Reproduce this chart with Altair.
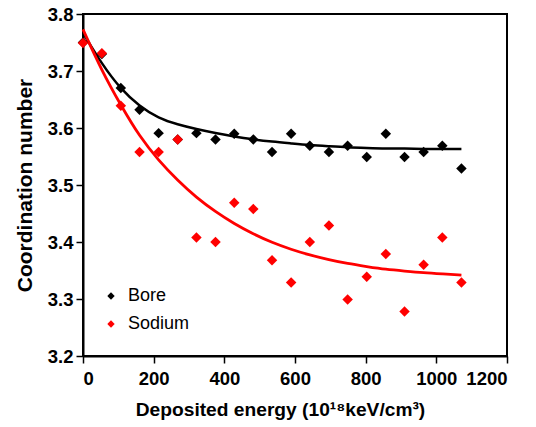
import altair as alt
import pandas as pd

# Data
x_vals = [0, 53.5, 107, 160, 214, 268, 321, 375, 428, 482, 535, 589,
          642, 696, 749, 803, 857, 910, 964, 1017, 1071]
bore = [3.75, 3.73, 3.67, 3.632, 3.591, 3.58, 3.591, 3.58, 3.59, 3.58, 3.558,
        3.59, 3.569, 3.558, 3.569, 3.549, 3.59, 3.549, 3.558, 3.569, 3.529]
sodium = [3.749, 3.731, 3.639, 3.558, 3.558, 3.58, 3.408, 3.40, 3.469, 3.458,
          3.368, 3.329, 3.40, 3.429, 3.299, 3.339, 3.379, 3.278, 3.36, 3.408, 3.329]
bore_fit = [3.767, 3.712, 3.668, 3.638, 3.617, 3.606, 3.598, 3.591, 3.585, 3.580,
            3.576, 3.573, 3.570, 3.568, 3.566, 3.565, 3.564, 3.564, 3.563, 3.563, 3.563]
sodium_fit = [3.773, 3.70, 3.64, 3.585, 3.543, 3.508, 3.478, 3.453, 3.432, 3.414,
              3.399, 3.387, 3.377, 3.369, 3.362, 3.357, 3.352, 3.349, 3.346, 3.344, 3.342]

series_names = ["Bore", "Sodium"]
series_colors = ["#000000", "#ff0000"]

pts = pd.DataFrame(
    {"x": x_vals * 2,
     "y": bore + sodium,
     "series": ["Bore"] * len(x_vals) + ["Sodium"] * len(x_vals),
     "order": [0] * len(x_vals) + [1] * len(x_vals)}
)
bore_line = pd.DataFrame({"x": x_vals, "y": bore_fit})
sodium_line = pd.DataFrame({"x": x_vals, "y": sodium_fit})

FONT = "Liberation Sans, Arial"

xscale = alt.Scale(domain=[0, 1200], nice=False, zero=False)
yscale = alt.Scale(domain=[3.2, 3.8], nice=False, zero=False)
cscale = alt.Scale(domain=series_names, range=series_colors)

xaxis = alt.Axis(values=[0, 200, 400, 600, 800, 1000, 1200],
                 title="Deposited energy (10¹⁸keV/cm³)", format="d",
                 labelPadding=6, titlePadding=13, titleFontSize=19.2,
                 titleX=197)
yaxis = alt.Axis(values=[3.2, 3.3, 3.4, 3.5, 3.6, 3.7, 3.8],
                 title="Coordination number", format=".1f",
                 labelPadding=3, titlePadding=12, titleFontSize=21)

line_b = alt.Chart(bore_line).mark_line(
    interpolate="basis", strokeWidth=2.5, color=series_colors[0]
).encode(
    x=alt.X("x:Q", scale=xscale, axis=xaxis),
    y=alt.Y("y:Q", scale=yscale, axis=yaxis),
)
line_s = alt.Chart(sodium_line).mark_line(
    interpolate="basis", strokeWidth=2.8, color=series_colors[1]
).encode(
    x=alt.X("x:Q", scale=xscale),
    y=alt.Y("y:Q", scale=yscale),
)

points = alt.Chart(pts).mark_point(shape="diamond", filled=True, size=110, opacity=1).encode(
    x=alt.X("x:Q", scale=xscale),
    y=alt.Y("y:Q", scale=yscale),
    color=alt.Color(
        "series:N", scale=cscale,
        legend=alt.Legend(
            title=None, orient="none", legendX=19, legendY=273,
            symbolType="diamond", symbolSize=55, symbolStrokeWidth=0,
            symbolOpacity=1,
            labelFontSize=18, labelFont=FONT, labelFontWeight="normal",
            labelColor="black", labelOffset=8, rowPadding=10, padding=0,
        ),
    ),
    order="order:Q",
)

chart = alt.layer(line_b, line_s, points).properties(
    width=424, height=342,
    autosize=alt.AutoSizeParams(type="none"),
    padding={"left": 83, "top": 14, "right": 29, "bottom": 71},
).configure_view(
    stroke="black", strokeWidth=2
).configure_axis(
    grid=False,
    domainColor="black", domainWidth=2,
    tickColor="black", tickWidth=1.5, tickSize=7,
    labelFont=FONT, labelFontSize=18.5, labelFontWeight="bold", labelColor="black",
    titleFont=FONT, titleFontWeight="bold", titleColor="black",
)

chart.save("out.html", embed_options={"renderer": "svg", "actions": False})
